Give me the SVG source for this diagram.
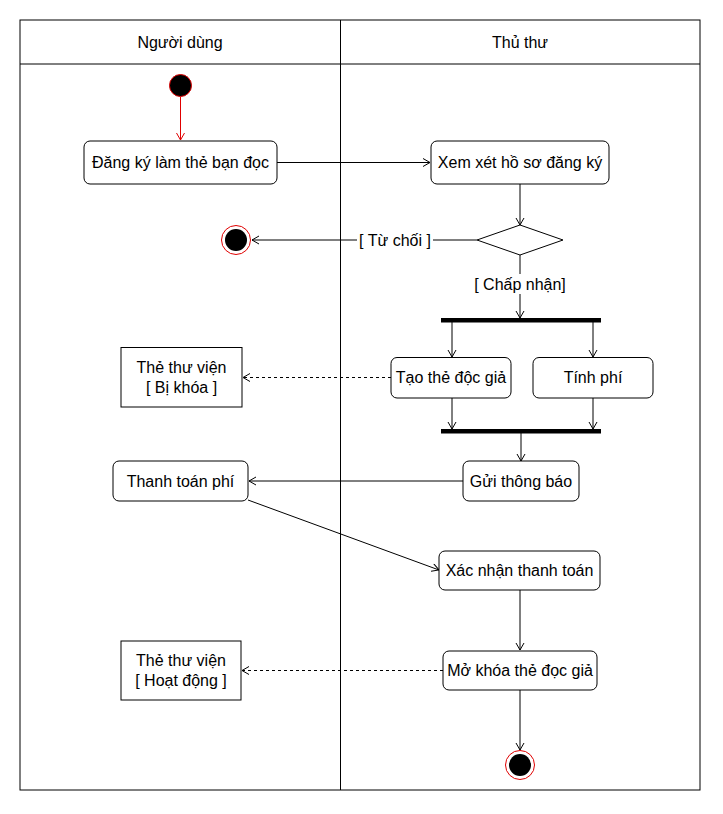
<svg xmlns="http://www.w3.org/2000/svg" width="723" height="814" viewBox="0 0 723 814">
<style>
text{font-family:"Liberation Sans",Arial,sans-serif;font-size:16px;fill:#000;text-anchor:middle}
.act{fill:#fff;stroke:#000;stroke-width:1}
.obj{fill:#fff;stroke:#000;stroke-width:1}
.edge{fill:none;stroke:#000;stroke-width:1}
.dash{fill:none;stroke:#000;stroke-width:1;stroke-dasharray:3,3}
.bar{fill:#000}
.lbl{fill:#fff}
</style>
<defs>
<marker id="arr" markerUnits="userSpaceOnUse" markerWidth="10" markerHeight="10" refX="8" refY="4.5" orient="auto">
<path d="M1,0.5 L8,4.5 L1,8.5" fill="none" stroke="#000" stroke-width="1"/>
</marker>
<marker id="arrRed" markerUnits="userSpaceOnUse" markerWidth="10" markerHeight="10" refX="8" refY="4.5" orient="auto">
<path d="M1,0.5 L8,4.5 L1,8.5" fill="none" stroke="#e00000" stroke-width="1"/>
</marker>
</defs>
<rect width="723" height="814" fill="#fff"/>
<g id="swimlanes">
<rect x="20" y="20" width="680" height="770" fill="none" stroke="#000" stroke-width="1"/>
<line x1="20" y1="64" x2="700" y2="64" stroke="#000"/>
<line x1="340.5" y1="20" x2="340.5" y2="790" stroke="#000"/>
<text x="180" y="48">Người dùng</text>
<text x="520" y="48">Thủ thư</text>
</g>
<g id="connectors">
<line class="edge" x1="180.5" y1="97" x2="180.5" y2="140" stroke="#e00000" style="stroke:#e00000" marker-end="url(#arrRed)"/>
<line class="edge" x1="277" y1="162.5" x2="430" y2="162.5" marker-end="url(#arr)"/>
<line class="edge" x1="520" y1="184" x2="520" y2="225" marker-end="url(#arr)"/>
<line class="edge" x1="477" y1="240" x2="252" y2="240" marker-end="url(#arr)"/>
<rect class="lbl" x="357" y="230" width="76" height="20"/>
<text x="395" y="246">[ Từ chối ]</text>
<line class="edge" x1="520" y1="255" x2="520" y2="318" marker-end="url(#arr)"/>
<rect class="lbl" x="470" y="274" width="100" height="20"/>
<text x="520" y="290">[ Chấp nhận]</text>
<line class="edge" x1="452" y1="321" x2="452" y2="357" marker-end="url(#arr)"/>
<line class="edge" x1="593" y1="321" x2="593" y2="357" marker-end="url(#arr)"/>
<line class="edge" x1="452" y1="398" x2="452" y2="429" marker-end="url(#arr)"/>
<line class="edge" x1="593" y1="398" x2="593" y2="429" marker-end="url(#arr)"/>
<line class="edge" x1="521" y1="433" x2="521" y2="461" marker-end="url(#arr)"/>
<line class="dash" x1="391" y1="377.5" x2="243" y2="377.5" marker-end="url(#arr)"/>
<line class="edge" x1="463" y1="481" x2="249" y2="481" marker-end="url(#arr)"/>
<line class="edge" x1="248" y1="500" x2="439" y2="570" marker-end="url(#arr)"/>
<line class="edge" x1="520" y1="590" x2="520" y2="650" marker-end="url(#arr)"/>
<line class="dash" x1="443" y1="670.5" x2="242" y2="670.5" marker-end="url(#arr)"/>
<line class="edge" x1="520" y1="690" x2="520" y2="750" marker-end="url(#arr)"/>
</g>
<g id="start">
<circle cx="180.5" cy="85.5" r="11" fill="#000" stroke="#e00000" stroke-width="1"/>
</g>
<g id="register">
<rect class="act" x="84" y="141" width="193" height="43" rx="6"/>
<text x="180.5" y="168">Đăng ký làm thẻ bạn đọc</text>
</g>
<g id="review">
<rect class="act" x="431" y="141" width="178" height="43" rx="6"/>
<text x="520" y="168">Xem xét hồ sơ đăng ký</text>
</g>
<g id="decision">
<polygon points="520,225 563,240 520,255 477,240" fill="#fff" stroke="#000" stroke-width="1"/>
</g>
<g id="end-reject">
<circle cx="236" cy="240" r="14.5" fill="#fff" stroke="#e00000" stroke-width="1"/>
<circle cx="236" cy="240" r="11" fill="#000"/>
</g>
<g id="fork">
<rect class="bar" x="441" y="318" width="160" height="4.5"/>
</g>
<g id="create-card">
<rect class="act" x="391" y="357.5" width="120" height="40.5" rx="6"/>
<text x="451" y="383">Tạo thẻ độc giả</text>
</g>
<g id="fee">
<rect class="act" x="533" y="357.5" width="120" height="40.5" rx="6"/>
<text x="593" y="383">Tính phí</text>
</g>
<g id="card-locked">
<rect class="obj" x="121" y="347.5" width="121" height="59.5"/>
<text x="181.5" y="373">Thẻ thư viện</text>
<text x="181.5" y="393">[ Bị khóa ]</text>
</g>
<g id="join">
<rect class="bar" x="441" y="429" width="160" height="4.5"/>
</g>
<g id="notify">
<rect class="act" x="463" y="461" width="116" height="40" rx="6"/>
<text x="521" y="487">Gửi thông báo</text>
</g>
<g id="pay">
<rect class="act" x="113" y="461" width="135" height="40" rx="6"/>
<text x="180.5" y="487">Thanh toán phí</text>
</g>
<g id="confirm">
<rect class="act" x="439" y="551" width="161" height="39" rx="6"/>
<text x="519.5" y="576">Xác nhận thanh toán</text>
</g>
<g id="unlock">
<rect class="act" x="443" y="651" width="154" height="39" rx="6"/>
<text x="520" y="676">Mở khóa thẻ đọc giả</text>
</g>
<g id="card-active">
<rect class="obj" x="121" y="641" width="120" height="59"/>
<text x="181" y="666">Thẻ thư viện</text>
<text x="181" y="686">[ Hoạt động ]</text>
</g>
<g id="end">
<circle cx="520" cy="765" r="14.5" fill="#fff" stroke="#e00000" stroke-width="1"/>
<circle cx="520" cy="765" r="11" fill="#000"/>
</g>
</svg>
